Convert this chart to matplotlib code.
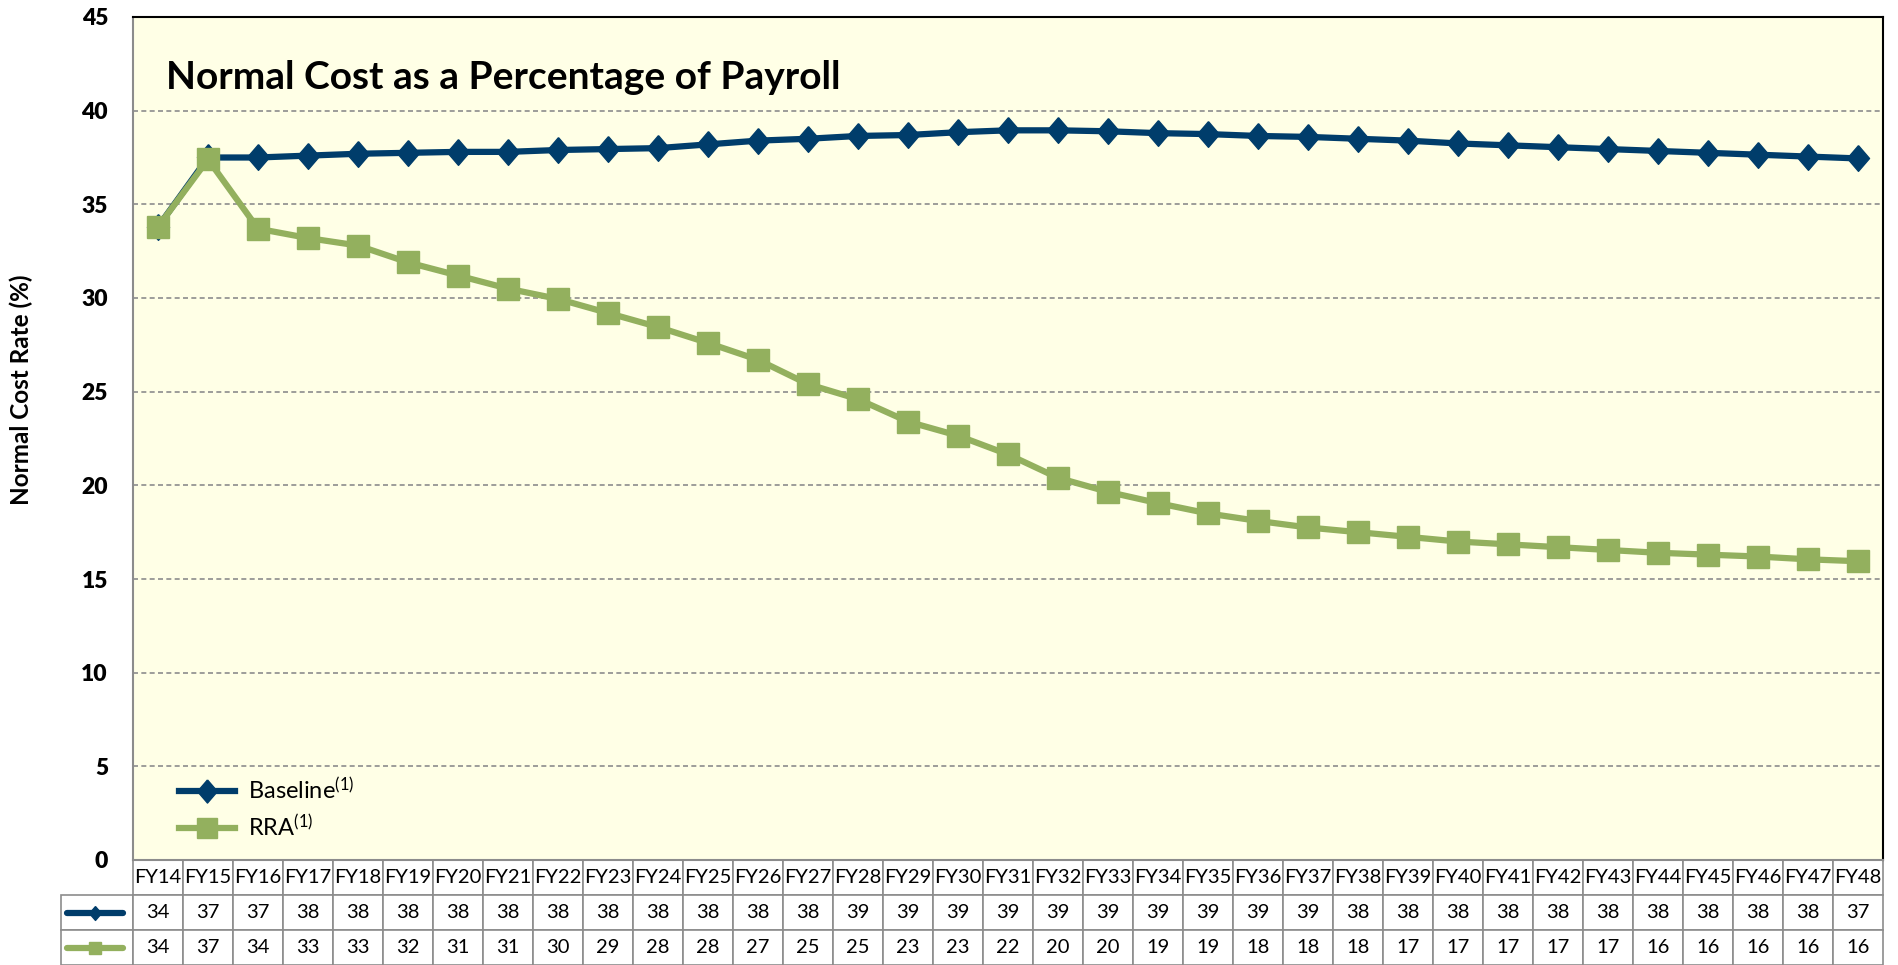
import matplotlib
matplotlib.use("Agg")
import matplotlib.pyplot as plt
from matplotlib.table import Table
from matplotlib.lines import Line2D

plt.rcParams["font.family"] = ["Lato", "DejaVu Sans"]
plt.rcParams["mathtext.fontset"] = "custom"
plt.rcParams["mathtext.rm"] = "Lato"
plt.rcParams["mathtext.it"] = "Lato:italic"
plt.rcParams["mathtext.bf"] = "Lato:bold"

# ── data ──
years = ["FY%d" % y for y in range(14, 49)]
baseline = [33.8, 37.5, 37.5, 37.6, 37.7, 37.75, 37.8, 37.8, 37.9, 37.95,
            38.0, 38.2, 38.4, 38.5, 38.65, 38.7, 38.85, 38.95, 38.95, 38.9,
            38.8, 38.75, 38.65, 38.6, 38.5, 38.4, 38.25, 38.15, 38.05, 37.95,
            37.85, 37.75, 37.65, 37.55, 37.45]
rra = [33.8, 37.4, 33.7, 33.2, 32.8, 31.9, 31.2, 30.5, 29.95, 29.2,
       28.45, 27.6, 26.7, 25.4, 24.6, 23.4, 22.65, 21.65, 20.4, 19.65,
       19.05, 18.5, 18.1, 17.75, 17.5, 17.25, 17.0, 16.85, 16.7, 16.55,
       16.4, 16.3, 16.2, 16.05, 15.95]
baseline_tbl = [34, 37, 37, 38, 38, 38, 38, 38, 38, 38, 38, 38, 38, 38, 39, 39,
                39, 39, 39, 39, 39, 39, 39, 39, 38, 38, 38, 38, 38, 38, 38, 38,
                38, 38, 37]
rra_tbl = [34, 37, 34, 33, 33, 32, 31, 31, 30, 29, 28, 28, 27, 25, 25, 23,
           23, 22, 20, 20, 19, 19, 18, 18, 18, 17, 17, 17, 17, 17, 16, 16,
           16, 16, 16]
yticks = list(range(0, 46, 5))

C_BASE = "#003D6B"
C_RRA = "#93B05E"
C_GRID = "#8C8C8C"
diamond = [(0, 0.5), (0.43, 0), (0, -0.5), (-0.43, 0), (0, 0.5)]

W, H = 1898, 965
fig = plt.figure(figsize=(W / 100, H / 100), dpi=100)
fig.patch.set_facecolor("white")
ax = fig.add_axes([133 / W, 105 / H, 1750 / W, 843 / H])
ax.set_facecolor("#FFFFE6")

x = list(range(len(years)))
ax.plot(x, baseline, color=C_BASE, lw=4.5, marker=diamond, ms=18.5,
        mec=C_BASE, mfc=C_BASE, label=r"Baseline$^{\mathrm{(1)}}$", zorder=3)
ax.plot(x, rra, color=C_RRA, lw=4.5, marker="s", ms=15.5,
        mec=C_RRA, mfc=C_RRA, label=r"RRA$^{\mathrm{(1)}}$", zorder=4)

ax.set_xlim(-0.5, len(years) - 0.5)
ax.set_ylim(0, 45)
ax.set_xticks([])
ax.set_yticks(yticks, [str(v) for v in yticks])
ax.tick_params(axis="y", length=0, pad=18, labelsize=16.5)
ax.set_axisbelow(True)
ax.yaxis.grid(True, color=C_GRID, lw=1.2, ls=(0, (3, 2)))

for s in ("top", "right"):
    ax.spines[s].set_color("black")
    ax.spines[s].set_linewidth(1.5)
for s in ("left", "bottom"):
    ax.spines[s].set_color(C_GRID)
    ax.spines[s].set_linewidth(1.5)

ax.set_ylabel("Normal Cost Rate (%)", fontsize=17.5, fontweight="bold")
ax.yaxis.set_label_coords(-0.0571, 0.5575)

ax.text(0.019, 0.9288, "Normal Cost as a Percentage of Payroll",
        transform=ax.transAxes, ha="left", va="center",
        fontsize=28, fontweight="bold")

ax.legend(loc="center left", bbox_to_anchor=(0.026, 0.0605), frameon=False,
          fontsize=17, handlelength=2.4, handletextpad=0.55, labelspacing=0.45,
          borderpad=0, borderaxespad=0, markerscale=0.9)

# ── data table under the axes (column 0 holds the series keys) ──
col_w = 1 / len(years)
lab_w = 72 / 1750
row_h = 35 / 843
tbl = Table(ax, bbox=[-lab_w, -3 * row_h, 1 + lab_w, 3 * row_h])
tbl.add_cell(0, 0, lab_w, row_h, text="", loc="center").visible_edges = "open"
for j, yr in enumerate(years):
    tbl.add_cell(0, j + 1, col_w, row_h, text=yr, loc="center")
for i, vals in enumerate([baseline_tbl, rra_tbl], start=1):
    tbl.add_cell(i, 0, lab_w, row_h, text="", loc="center")
    for j, v in enumerate(vals):
        tbl.add_cell(i, j + 1, col_w, row_h, text=str(v), loc="center")
tbl.auto_set_font_size(False)
tbl.set_fontsize(14.5)
for cell in tbl.get_celld().values():
    cell.set_edgecolor(C_GRID)
    cell.set_linewidth(1.2)
    cell.set_facecolor("white")
ax.add_table(tbl)

# row key icons
x0, x1 = (67 - 133) / 1750, (123 - 133) / 1750
for yc, col, mk, ms in [(-1.5 * row_h, C_BASE, diamond, 10),
                        (-2.5 * row_h, C_RRA, "s", 9)]:
    ax.add_line(Line2D([x0, x1], [yc, yc], transform=ax.transAxes, color=col,
                       lw=4.5, solid_capstyle="round", clip_on=False))
    ax.add_line(Line2D([(x0 + x1) / 2], [yc], transform=ax.transAxes,
                       marker=mk, ms=ms, color=col, ls="none", clip_on=False))

# tick labels bold (set after a draw so the final tick objects get it)
fig.canvas.draw()
for t in ax.get_yticklabels():
    t.set_fontweight("heavy")

fig.savefig("out.png", dpi=100, facecolor=fig.get_facecolor())
